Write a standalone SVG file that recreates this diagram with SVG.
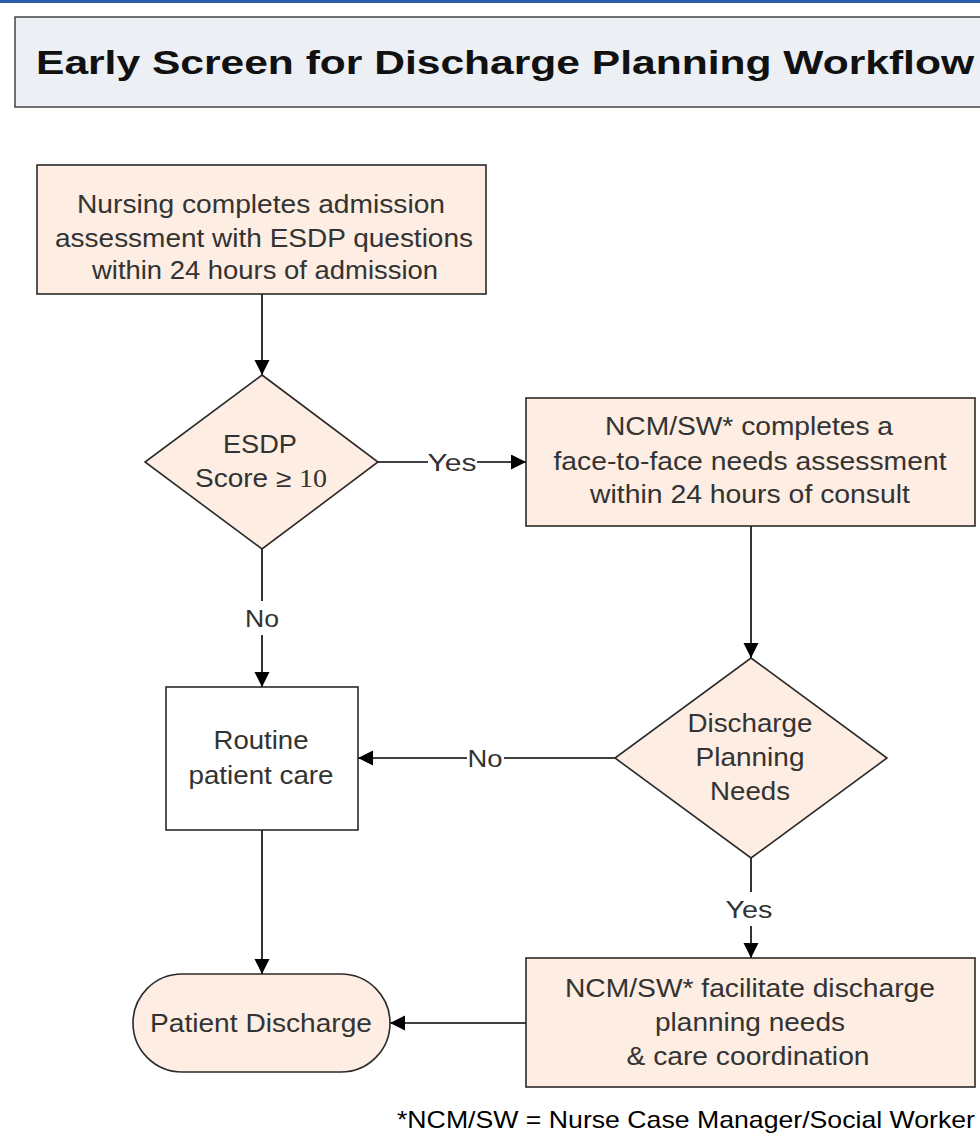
<svg xmlns="http://www.w3.org/2000/svg" width="980" height="1134" viewBox="0 0 980 1134">
<defs>
<marker id="arr" markerUnits="userSpaceOnUse" markerWidth="16" markerHeight="16" refX="15" refY="7.5" orient="auto">
<path d="M0,0 L15,7.5 L0,15 Z" fill="#000"/>
</marker>
<style>
.node{fill:#fdede2;stroke:#2a2a2a;stroke-width:1.6}
.plain{fill:#ffffff;stroke:#2a2a2a;stroke-width:1.6}
.t{font-family:"Liberation Sans",Arial,sans-serif;font-size:25px;fill:#333;text-anchor:middle}
.lbl{font-family:"Liberation Sans",Arial,sans-serif;font-size:24px;fill:#333;text-anchor:middle;dominant-baseline:central}
.c{stroke:#000;stroke-width:1.6;fill:none}
</style>
</defs>
<rect x="0" y="0" width="980" height="1134" fill="#ffffff"/>
<rect x="0" y="0" width="980" height="3" fill="#2b5ba6"/>
<g id="title">
<rect x="15" y="17" width="980" height="90" fill="#eceff4" stroke="#444" stroke-width="1.5"/>
<text x="36" y="74" font-family="Liberation Sans,Arial,sans-serif" font-weight="bold" font-size="34" fill="#111" textLength="938" lengthAdjust="spacingAndGlyphs">Early Screen for Discharge Planning Workflow</text>
</g>
<g id="connectors">
<line class="c" x1="262" y1="294" x2="262" y2="375" marker-end="url(#arr)"/>
<line class="c" x1="378" y1="462" x2="526" y2="462" marker-end="url(#arr)"/>
<line class="c" x1="262" y1="549" x2="262" y2="687" marker-end="url(#arr)"/>
<line class="c" x1="751" y1="526" x2="751" y2="658" marker-end="url(#arr)"/>
<line class="c" x1="615" y1="758" x2="358" y2="758" marker-end="url(#arr)"/>
<line class="c" x1="751" y1="858" x2="751" y2="958" marker-end="url(#arr)"/>
<line class="c" x1="262" y1="830" x2="262" y2="974" marker-end="url(#arr)"/>
<line class="c" x1="526" y1="1023" x2="390" y2="1023" marker-end="url(#arr)"/>
<rect x="428" y="448" width="49" height="28" fill="#fff"/>
<text class="lbl" x="452" y="462" textLength="49" lengthAdjust="spacingAndGlyphs">Yes</text>
<rect x="244" y="601" width="36" height="34" fill="#fff"/>
<text class="lbl" x="262" y="618" textLength="34" lengthAdjust="spacingAndGlyphs">No</text>
<rect x="467" y="744" width="37" height="28" fill="#fff"/>
<text class="lbl" x="485" y="758" textLength="35" lengthAdjust="spacingAndGlyphs">No</text>
<rect x="725" y="892" width="50" height="34" fill="#fff"/>
<text class="lbl" x="749" y="909" textLength="47" lengthAdjust="spacingAndGlyphs">Yes</text>
</g>
<g id="n1">
<rect class="node" x="37" y="165" width="449" height="129"/>
<text class="t" x="261" y="213" textLength="368" lengthAdjust="spacingAndGlyphs">Nursing completes admission</text>
<text class="t" x="264" y="247" textLength="418" lengthAdjust="spacingAndGlyphs">assessment with ESDP questions</text>
<text class="t" x="265" y="279" textLength="346" lengthAdjust="spacingAndGlyphs">within 24 hours of admission</text>
</g>
<g id="d1">
<polygon class="node" points="262,375 378,462 262,549 145,462"/>
<text class="t" x="260" y="453" textLength="74" lengthAdjust="spacingAndGlyphs">ESDP</text>
<text class="t" x="261" y="487" textLength="132" lengthAdjust="spacingAndGlyphs">Score ≥ <tspan font-family="Liberation Serif,serif">10</tspan></text>
</g>
<g id="n2">
<rect class="node" x="526" y="398" width="449" height="128"/>
<text class="t" x="749" y="435" textLength="288" lengthAdjust="spacingAndGlyphs">NCM/SW* completes a</text>
<text class="t" x="750" y="470" textLength="393" lengthAdjust="spacingAndGlyphs">face-to-face needs assessment</text>
<text class="t" x="750" y="503" textLength="320" lengthAdjust="spacingAndGlyphs">within 24 hours of consult</text>
</g>
<g id="d2">
<polygon class="node" points="751,658 887,758 751,858 615,758"/>
<text class="t" x="750" y="732" textLength="125" lengthAdjust="spacingAndGlyphs">Discharge</text>
<text class="t" x="750" y="766" textLength="109" lengthAdjust="spacingAndGlyphs">Planning</text>
<text class="t" x="750" y="800" textLength="80" lengthAdjust="spacingAndGlyphs">Needs</text>
</g>
<g id="routine">
<rect class="plain" x="166" y="687" width="192" height="143"/>
<text class="t" x="261" y="749" textLength="95" lengthAdjust="spacingAndGlyphs">Routine</text>
<text class="t" x="261" y="784" textLength="145" lengthAdjust="spacingAndGlyphs">patient care</text>
</g>
<g id="discharge">
<rect class="node" x="133" y="974" width="257" height="98" rx="49" ry="49"/>
<text class="t" x="261" y="1032" textLength="222" lengthAdjust="spacingAndGlyphs">Patient Discharge</text>
</g>
<g id="n3">
<rect class="node" x="526" y="958" width="449" height="129"/>
<text class="t" x="750" y="997" textLength="370" lengthAdjust="spacingAndGlyphs">NCM/SW* facilitate discharge</text>
<text class="t" x="750" y="1031" textLength="190" lengthAdjust="spacingAndGlyphs">planning needs</text>
<text class="t" x="748" y="1065" textLength="243" lengthAdjust="spacingAndGlyphs">&amp; care coordination</text>
</g>
<g id="footnote">
<text x="397" y="1128" font-family="Liberation Sans,Arial,sans-serif" font-size="24" fill="#000" textLength="578" lengthAdjust="spacingAndGlyphs">*NCM/SW = Nurse Case Manager/Social Worker</text>
</g>
</svg>
